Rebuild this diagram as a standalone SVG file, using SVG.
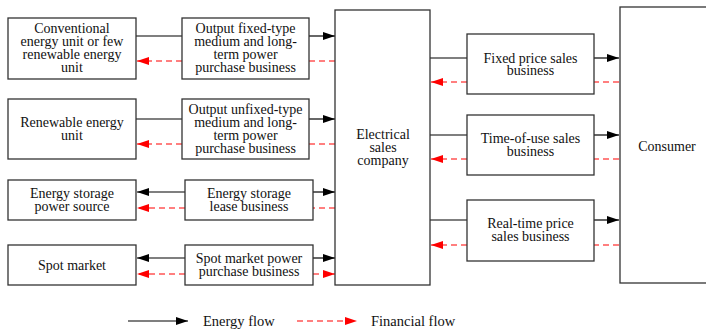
<svg xmlns="http://www.w3.org/2000/svg" width="706" height="332" viewBox="0 0 706 332">
<style>
.box{fill:#fff;stroke:#333;stroke-width:1.3}
.t{font-family:"Liberation Serif","Times New Roman",serif;font-size:14px;fill:#111;text-anchor:middle}
.lt{font-family:"Liberation Serif","Times New Roman",serif;font-size:14.5px;fill:#111}
.e{stroke:#000;stroke-width:1.2;fill:none}
.f{stroke:#ff0000;stroke-width:1.2;fill:none;stroke-dasharray:6,4}
</style>
<defs>
<marker id="ab" markerUnits="userSpaceOnUse" markerWidth="13" markerHeight="9" refX="12" refY="4" orient="auto">
<path d="M0,0 L12,4 L0,8 z" fill="#000"/>
</marker>
<marker id="ar" markerUnits="userSpaceOnUse" markerWidth="13" markerHeight="9" refX="12" refY="4" orient="auto">
<path d="M0,0 L12,4 L0,8 z" fill="#ff0000"/>
</marker>
</defs>
<rect width="706" height="332" fill="#fff"/>

<g id="connectors">
<line class="e" x1="136" y1="36" x2="182" y2="36"/>
<line class="e" x1="309" y1="36" x2="335" y2="36" marker-end="url(#ab)"/>
<line class="f" x1="182" y1="61" x2="137" y2="61" marker-end="url(#ar)"/>
<line class="f" x1="335" y1="61" x2="309" y2="61"/>

<line class="e" x1="136" y1="119" x2="182" y2="119"/>
<line class="e" x1="309" y1="119" x2="335" y2="119" marker-end="url(#ab)"/>
<line class="f" x1="182" y1="144" x2="137" y2="144" marker-end="url(#ar)"/>
<line class="f" x1="335" y1="144" x2="309" y2="144"/>

<line class="e" x1="185" y1="192" x2="137" y2="192" marker-end="url(#ab)"/>
<line class="e" x1="313" y1="192" x2="335" y2="192" marker-end="url(#ab)"/>
<line class="f" x1="185" y1="208" x2="137" y2="208" marker-end="url(#ar)"/>
<line class="f" x1="335" y1="208" x2="313" y2="208"/>

<line class="e" x1="185" y1="258" x2="137" y2="258" marker-end="url(#ab)"/>
<line class="e" x1="313" y1="258" x2="335" y2="258" marker-end="url(#ab)"/>
<line class="f" x1="185" y1="274" x2="137" y2="274" marker-end="url(#ar)"/>
<line class="f" x1="313" y1="274" x2="335" y2="274" marker-end="url(#ar)"/>

<line class="e" x1="430" y1="58" x2="467" y2="58"/>
<line class="e" x1="594" y1="58" x2="619" y2="58" marker-end="url(#ab)"/>
<line class="f" x1="619" y1="82" x2="594" y2="82"/>
<line class="f" x1="467" y1="82" x2="431" y2="82" marker-end="url(#ar)"/>

<line class="e" x1="430" y1="135" x2="467" y2="135"/>
<line class="e" x1="594" y1="135" x2="619" y2="135" marker-end="url(#ab)"/>
<line class="f" x1="619" y1="159" x2="594" y2="159"/>
<line class="f" x1="467" y1="159" x2="431" y2="159" marker-end="url(#ar)"/>

<line class="e" x1="430" y1="220" x2="467" y2="220"/>
<line class="e" x1="594" y1="220" x2="619" y2="220" marker-end="url(#ab)"/>
<line class="f" x1="619" y1="245" x2="594" y2="245"/>
<line class="f" x1="467" y1="245" x2="431" y2="245" marker-end="url(#ar)"/>
</g>

<g id="conventional">
<rect class="box" x="8" y="18" width="128" height="61"/>
<text class="t" x="72" y="33">Conventional</text>
<text class="t" x="72" y="46">energy unit or few</text>
<text class="t" x="72" y="59">renewable energy</text>
<text class="t" x="72" y="72">unit</text>
</g>
<g id="output-fixed">
<rect class="box" x="182" y="18" width="127" height="61"/>
<text class="t" x="245.5" y="33">Output fixed-type</text>
<text class="t" x="245.5" y="46">medium and long-</text>
<text class="t" x="245.5" y="59">term power</text>
<text class="t" x="245.5" y="72">purchase business</text>
</g>
<g id="renewable">
<rect class="box" x="8" y="99" width="128" height="60"/>
<text class="t" x="72" y="127">Renewable energy</text>
<text class="t" x="72" y="140">unit</text>
</g>
<g id="output-unfixed">
<rect class="box" x="182" y="99" width="127" height="60"/>
<text class="t" x="245.5" y="114">Output unfixed-type</text>
<text class="t" x="245.5" y="127">medium and long-</text>
<text class="t" x="245.5" y="140">term power</text>
<text class="t" x="245.5" y="153">purchase business</text>
</g>
<g id="storage-source">
<rect class="box" x="8" y="180" width="128" height="40"/>
<text class="t" x="72" y="198">Energy storage</text>
<text class="t" x="72" y="211">power source</text>
</g>
<g id="storage-lease">
<rect class="box" x="185" y="180" width="128" height="40"/>
<text class="t" x="249" y="198">Energy storage</text>
<text class="t" x="249" y="211">lease business</text>
</g>
<g id="spot-market">
<rect class="box" x="8" y="245" width="128" height="40"/>
<text class="t" x="72" y="270">Spot market</text>
</g>
<g id="spot-purchase">
<rect class="box" x="185" y="245" width="128" height="40"/>
<text class="t" x="249" y="263">Spot market power</text>
<text class="t" x="249" y="276">purchase business</text>
</g>
<g id="electrical">
<rect class="box" x="335" y="10" width="95" height="275"/>
<text class="t" x="383" y="139">Electrical</text>
<text class="t" x="383" y="152">sales</text>
<text class="t" x="383" y="165">company</text>
</g>
<g id="fixed-price">
<rect class="box" x="467" y="34" width="127" height="60"/>
<text class="t" x="530.5" y="62.5">Fixed price sales</text>
<text class="t" x="530.5" y="75">business</text>
</g>
<g id="time-of-use">
<rect class="box" x="467" y="115" width="127" height="60"/>
<text class="t" x="530.5" y="143">Time-of-use sales</text>
<text class="t" x="530.5" y="155.5">business</text>
</g>
<g id="real-time">
<rect class="box" x="467" y="200" width="127" height="61"/>
<text class="t" x="530.5" y="228">Real-time price</text>
<text class="t" x="530.5" y="240.5">sales business</text>
</g>
<g id="consumer">
<rect class="box" x="620" y="7" width="100" height="276"/>
<text class="t" x="667" y="151">Consumer</text>
</g>
<g id="legend">
<line class="e" x1="128" y1="321" x2="188" y2="321" marker-end="url(#ab)"/>
<text class="lt" x="203" y="326">Energy flow</text>
<line class="f" x1="297" y1="321" x2="357" y2="321" marker-end="url(#ar)"/>
<text class="lt" x="371" y="326">Financial flow</text>
</g>
</svg>
